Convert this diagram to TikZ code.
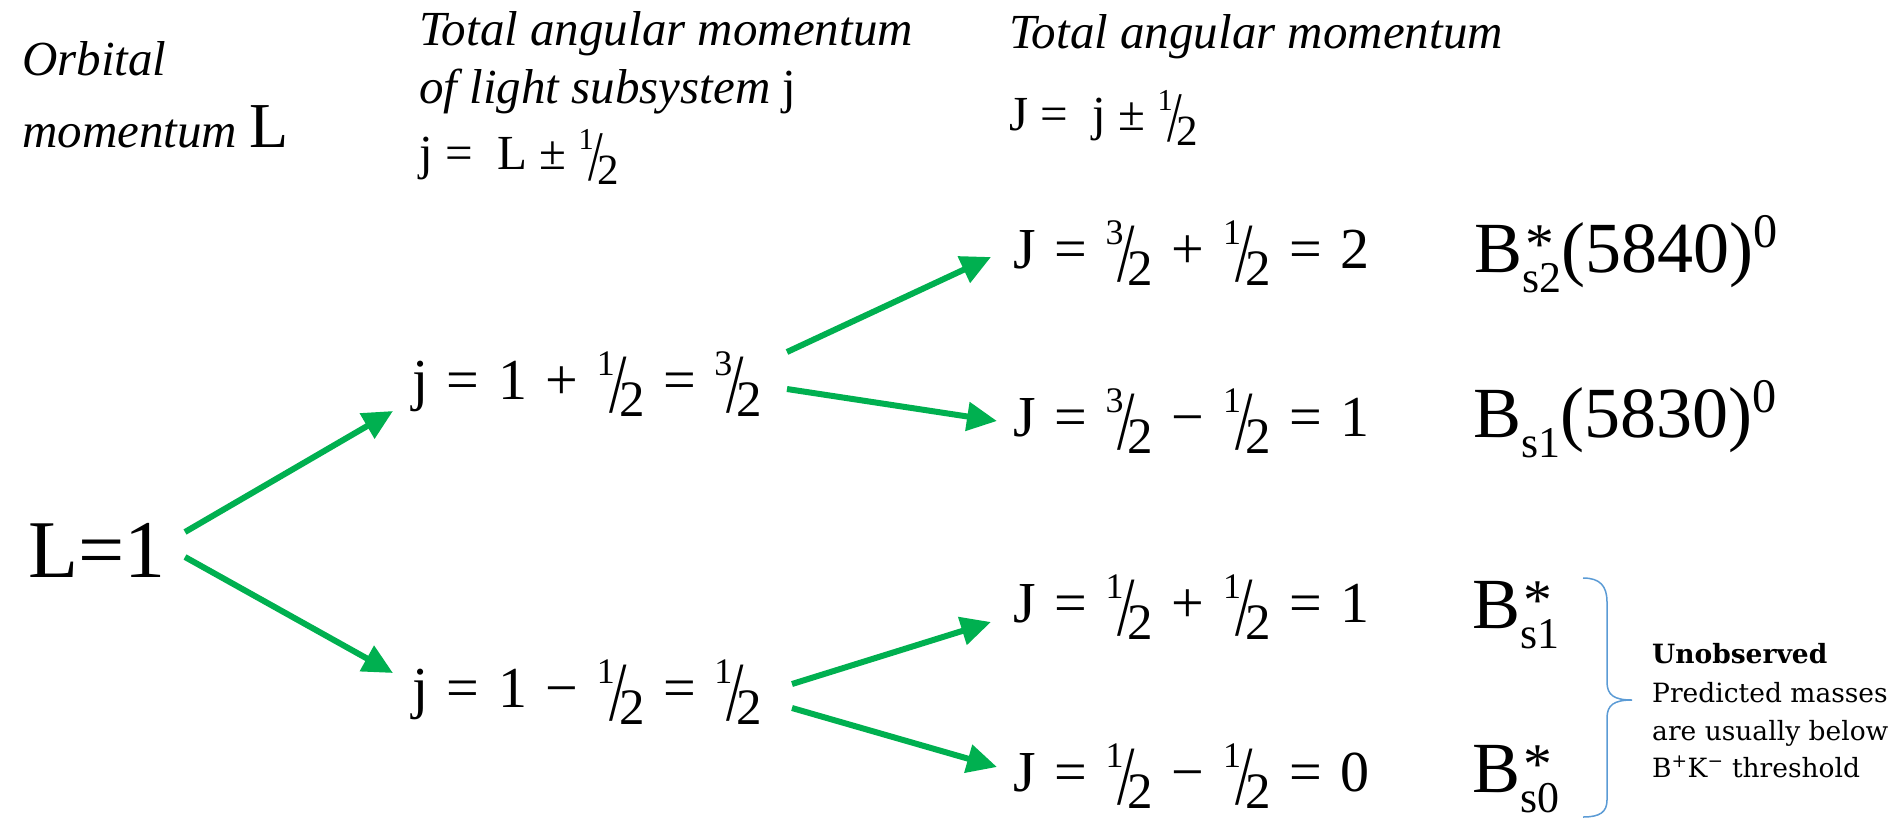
\documentclass[tikz,border=0pt]{standalone}
\usepackage{fontspec}
\usepackage{graphicx}
\usetikzlibrary{arrows.meta}
\setmainfont{Liberation Serif}
\newfontfamily\notefont{DejaVu Serif}
\definecolor{arrgreen}{HTML}{00B050}
\definecolor{braceblue}{HTML}{5B9BD5}
\newcommand\fr[2]{%
  \raisebox{0.40em}{\scalebox{0.62}{#1}}%
  \kern-0.1em
  \raisebox{-0.24em}{\scalebox{1.08}[1.45]{/}}%
  \kern-0.13em
  \raisebox{-0.31em}{\scalebox{0.88}{#2}}}
\newcommand\eqgap{\hspace{0.32em}}
\newcommand\Blab[3]{B\makebox[0pt][l]{\hspace{0.04em}\raisebox{0.12em}{\scalebox{0.8}{#1}}}\raisebox{-0.29em}{\scalebox{0.61}{#2}}#3}
\begin{document}
\begin{tikzpicture}[x=1pt,y=-1pt,
  hdr/.style={font=\itshape\fontsize{49}{58}\selectfont, anchor=base west, inner sep=0pt},
  eqn/.style={font=\fontsize{58}{64}\selectfont, anchor=base west, inner sep=0pt},
  blab/.style={font=\fontsize{72}{80}\selectfont, anchor=base west, inner sep=0pt},
  note/.style={font=\notefont\fontsize{26.5}{38}\selectfont, anchor=base west, inner sep=0pt},
  arr/.style={draw=arrgreen, line width=6pt, -{Triangle[length=30pt,width=28pt]}},
  brace/.style={draw=braceblue, line width=1.5pt}]
\useasboundingbox (0,0) rectangle (1895,820);
% headers
\node[hdr] (hO) at (22,75) {Orbital};
\node[hdr] (hM) at (22,147) {momentum {\upshape\fontsize{64}{64}\selectfont L}};
\node[hdr] (hT1) at (419,45) {Total angular momentum};
\node[hdr] (hT2) at (419,103) {of light subsystem {\upshape j}};
\node[hdr] (hT3) at (419,169) {\upshape j =\ \ L ± \fr{1}{2}};
\node[hdr] (hR1) at (1009,48) {Total angular momentum};
\node[hdr] (hR2) at (1009,130) {\upshape J =\ \ j ± \fr{1}{2}};
% equations
\node[eqn, font=\fontsize{82}{90}\selectfont] (L1) at (28,577) {L=1};
\node[eqn] (ju) at (412,399) {j\eqgap=\eqgap1\eqgap+\eqgap\fr{1}{2}\eqgap=\eqgap\fr{3}{2}};
\node[eqn] (jl) at (412,707) {j\eqgap=\eqgap1\eqgap−\eqgap\fr{1}{2}\eqgap=\eqgap\fr{1}{2}};
\node[eqn] (J1) at (1013,268) {J\eqgap=\eqgap\fr{3}{2}\eqgap+\eqgap\fr{1}{2}\eqgap=\eqgap2};
\node[eqn] (J2) at (1013,436) {J\eqgap=\eqgap\fr{3}{2}\eqgap−\eqgap\fr{1}{2}\eqgap=\eqgap1};
\node[eqn] (J3) at (1013,622) {J\eqgap=\eqgap\fr{1}{2}\eqgap+\eqgap\fr{1}{2}\eqgap=\eqgap1};
\node[eqn] (J4) at (1013,791) {J\eqgap=\eqgap\fr{1}{2}\eqgap−\eqgap\fr{1}{2}\eqgap=\eqgap0};
% particle labels
\node[blab] (B1) at (1474,272) {\Blab{*}{s2}{(5840)\raisebox{0.34em}{\scalebox{0.67}{0}}}};
\node[blab] (B2) at (1473,437) {\Blab{}{s1}{(5830)\raisebox{0.34em}{\scalebox{0.67}{0}}}};
\node[blab] (B3) at (1472,628) {\Blab{*}{s1}{}};
\node[blab] (B4) at (1472,792) {\Blab{*}{s0}{}};
% note
\node[note] (n1) at (1652,663) {\bfseries Unobserved};
\node[note] (n2) at (1652,702) {Predicted masses};
\node[note] (n3) at (1652,740) {are usually below};
\node[note] (n4) at (1652,777) {B\textsuperscript{+}K\textsuperscript{−} threshold};
% brace
\draw[brace] (1583,578) .. controls (1600,578) and (1607,586) .. (1607,602) -- (1607,682)
  .. controls (1607,695) and (1614,700) .. (1632,700)
  .. controls (1614,700) and (1607,705) .. (1607,718) -- (1607,800)
  .. controls (1607,812) and (1600,817) .. (1583,817);
% arrows
\coordinate (a1s) at (185,532); \coordinate (a1e) at (393,411);
\coordinate (a2s) at (185,557); \coordinate (a2e) at (393,673);
\coordinate (a3s) at (787,352); \coordinate (a3e) at (991,257);
\coordinate (a4s) at (787,389); \coordinate (a4e) at (997,421);
\coordinate (a5s) at (792,684); \coordinate (a5e) at (991,622);
\coordinate (a6s) at (792,708); \coordinate (a6e) at (997,767);
\draw[arr] (a1s) -- (a1e);
\draw[arr] (a2s) -- (a2e);
\draw[arr] (a3s) -- (a3e);
\draw[arr] (a4s) -- (a4e);
\draw[arr] (a5s) -- (a5e);
\draw[arr] (a6s) -- (a6e);
\end{tikzpicture}
\end{document}
